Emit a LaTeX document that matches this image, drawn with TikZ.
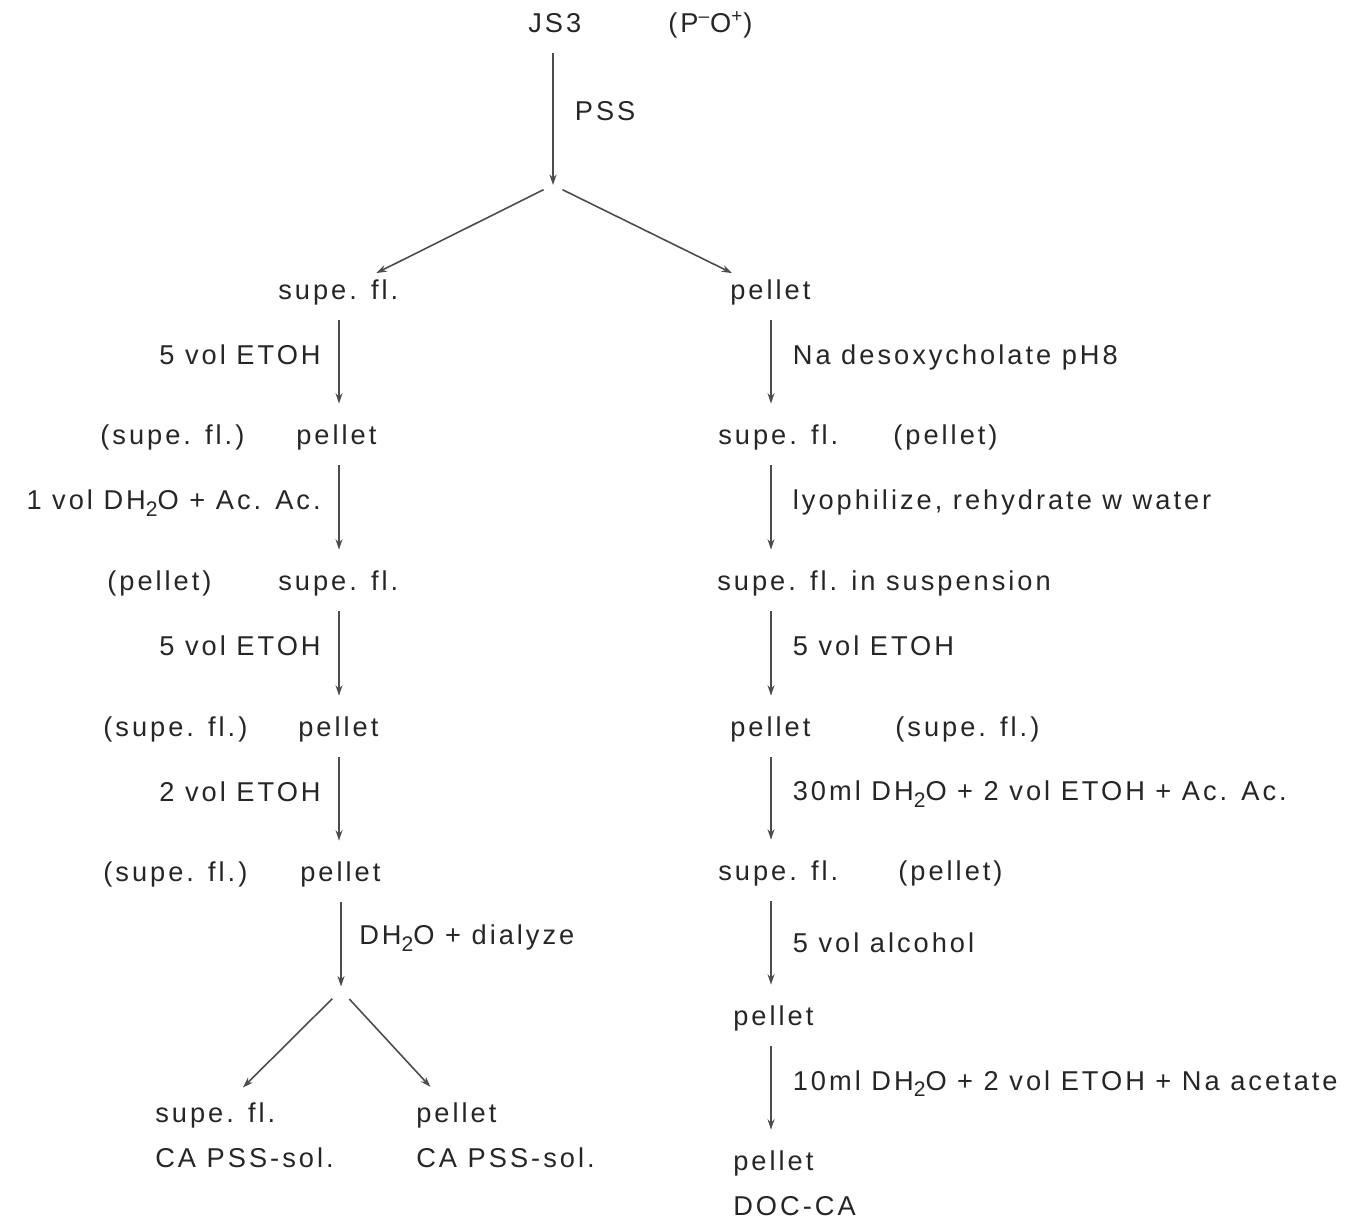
\documentclass[tikz,border=0pt]{standalone}
\usepackage{fontspec}
\setmainfont{Liberation Sans}[LetterSpace=11]
\usetikzlibrary{arrows.meta,calc}
\newcommand{\dhtwo}{DH\raisebox{-0.45ex}{\fontsize{12}{12}\selectfont 2}O}
\tikzset{
    prod/.style   = {inner sep=0pt, anchor=west, text height=11pt, text depth=3pt, text=black!85,
                     font=\fontsize{15.5}{18}\selectfont},
    steplbl/.style = {prod, anchor=center, pos=0.45},
    flow/.style   = {-{Stealth[length=6pt,width=4pt]}, line width=0.9pt, draw=black!70,
                     shorten <=16pt, shorten >=19pt},
    branch/.style = {flow, shorten <=6pt, shorten >=8pt}
}
\begin{document}
\begin{tikzpicture}[x=0.02cm, y=-0.02cm]
        \useasboundingbox (0,0) rectangle (1364,1224);

        % Start
        \node[prod] (js3) at (528,25) {JS3};
        \node[prod] (po) at (668,25) {(P\textsuperscript{--}O\textsuperscript{+})};
        \coordinate (split1) at (553,185);
        \coordinate (laxis) at (339,0);
        \coordinate (raxis) at (771,0);
        \draw[flow, shorten >=0pt] (js3 -| split1) -- node[steplbl, pos=0.55, anchor=west, xshift=12pt] {PSS} (split1);

        % Left column
        \node[prod] (lsup1) at (278,292) {supe. fl.};
        \node[prod] (lsupx2) at (100,437) {(supe. fl.)};
        \node[prod] (lpel2) at (296,437) {pellet};
        \node[prod] (lpelx3) at (107,583) {(pellet)};
        \node[prod] (lsup3) at (278,583) {supe. fl.};
        \node[prod] (lsupx4) at (103,729) {(supe. fl.)};
        \node[prod] (lpel4) at (298,729) {pellet};
        \node[prod] (lsupx5) at (103,874) {(supe. fl.)};
        \node[prod] (lpel5) at (300,874) {pellet};
        \coordinate (split2) at (341,990);
        \node[prod] (lend1) at (155,1115) {supe. fl.};
        \node[prod] (lend1b) at (155,1160) {CA PSS-sol.};
        \node[prod] (lend2) at (416,1115) {pellet};
        \node[prod] (lend2b) at (416,1160) {CA PSS-sol.};

        \draw[branch] (split1) -- (lsup1);
        \draw[flow] (lsup1 -| laxis) -- node[steplbl, anchor=east, xshift=-10pt] {5 vol ETOH} (lpel2 -| laxis);
        \draw[flow] (lpel2 -| laxis) -- node[steplbl, anchor=east, xshift=-10pt] {1 vol \dhtwo{} + Ac. Ac.} (lsup3 -| laxis);
        \draw[flow] (lsup3 -| laxis) -- node[steplbl, anchor=east, xshift=-10pt] {5 vol ETOH} (lpel4 -| laxis);
        \draw[flow] (lpel4 -| laxis) -- node[steplbl, anchor=east, xshift=-10pt] {2 vol ETOH} (lpel5 -| laxis);
        \draw[flow, shorten >=2pt] (lpel5 -| split2) -- node[steplbl, pos=0.55, anchor=west, xshift=10pt] {\dhtwo{} + dialyze} (split2);
        \draw[branch, shorten <=7pt, shorten >=12pt] (split2) -- (lend1);
        \draw[branch, shorten <=7pt, shorten >=12pt] (split2) -- (lend2);

        % Right column
        \node[prod] (rpel1) at (730,292) {pellet};
        \node[prod] (rsup2) at (718,437) {supe. fl.};
        \node[prod] (rpelx2) at (893,437) {(pellet)};
        \node[prod] (rsup3) at (717,583) {supe. fl. in suspension};
        \node[prod] (rpel4) at (730,729) {pellet};
        \node[prod] (rsupx4) at (895,729) {(supe. fl.)};
        \node[prod] (rsup5) at (718,873) {supe. fl.};
        \node[prod] (rpelx5) at (898,873) {(pellet)};
        \node[prod] (rpel6) at (733,1018) {pellet};
        \node[prod] (rpel7) at (733,1163) {pellet};
        \node[prod] (rdoc) at (733,1208) {DOC-CA};

        \draw[branch] (split1) -- (rpel1);
        \draw[flow] (rpel1 -| raxis) -- node[steplbl, anchor=west, xshift=12pt] {Na desoxycholate pH8} (rsup2 -| raxis);
        \draw[flow] (rsup2 -| raxis) -- node[steplbl, anchor=west, xshift=12pt] {lyophilize, rehydrate w water} (rsup3 -| raxis);
        \draw[flow] (rsup3 -| raxis) -- node[steplbl, anchor=west, xshift=12pt] {5 vol ETOH} (rpel4 -| raxis);
        \draw[flow] (rpel4 -| raxis) -- node[steplbl, anchor=west, xshift=12pt] {30ml \dhtwo{} + 2 vol ETOH + Ac. Ac.} (rsup5 -| raxis);
        \draw[flow] (rsup5 -| raxis) -- node[steplbl, pos=0.5, anchor=west, xshift=12pt] {5 vol alcohol} (rpel6 -| raxis);
        \draw[flow] (rpel6 -| raxis) -- node[steplbl, anchor=west, xshift=12pt] {10ml \dhtwo{} + 2 vol ETOH + Na acetate} (rpel7 -| raxis);

    \end{tikzpicture}
\end{document}
